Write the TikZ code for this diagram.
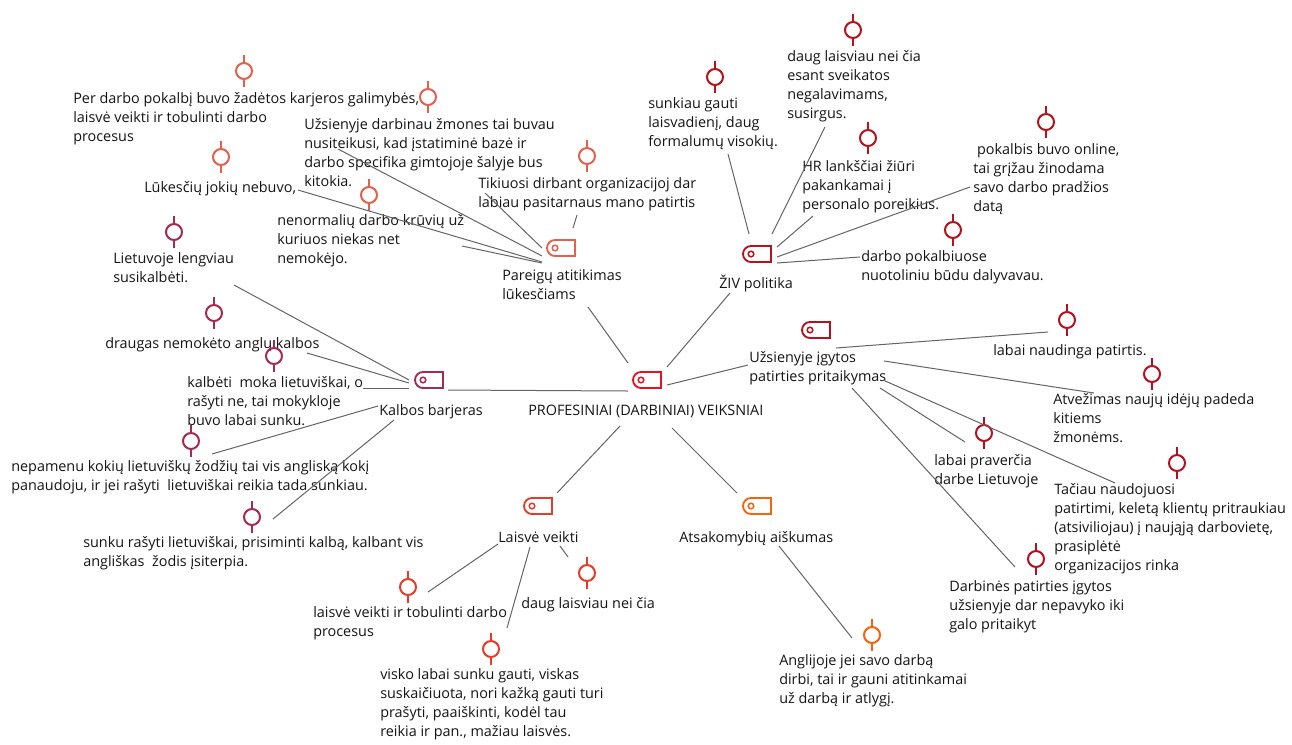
\documentclass[tikz,border=0pt]{standalone}
\usepackage{fontspec}
\setmainfont{Open Sans}
\definecolor{cCenter}{RGB}{232,17,35}
\definecolor{cPar}{RGB}{226,97,77}
\definecolor{cZiv}{RGB}{181,18,27}
\definecolor{cKal}{RGB}{165,42,79}
\definecolor{cUzs}{RGB}{181,16,31}
\definecolor{cLai}{RGB}{230,59,42}
\definecolor{cAts}{RGB}{247,99,12}
\definecolor{lineGray}{RGB}{100,100,100}
\definecolor{txtCol}{RGB}{20,20,20}
\tikzset{
  conn/.style={draw=lineGray, line width=0.75pt},
  txt/.style={anchor=north west, inner sep=0pt, align=left, text=txtCol, yshift=11.25pt,
    font=\fontsize{10.8pt}{14.2pt}\selectfont,
    execute at begin node={\rule{0pt}{11.25pt}}},
  tagnode/.style={inner sep=0pt, minimum width=22.5pt, minimum height=13.5pt},
  pics/tagicon/.style={code={
    \draw[line width=1.4pt] (-4.5pt,6pt) -- (10.5pt,6pt) -- (10.5pt,-6pt) -- (-4.5pt,-6pt)
      arc[start angle=270,end angle=90,radius=6pt] -- cycle;
    \draw[line width=1.1pt] (-4.5pt,0pt) circle[radius=2.1pt];
  }},
  pics/pinicon/.style={code={
    \draw[line width=1.5pt] (0pt,6pt) -- (0pt,12pt) (0pt,-6pt) -- (0pt,-12pt);
    \draw[line width=1.5pt] (0pt,0pt) circle[radius=6pt];
  }}
}
\begin{document}
\begin{tikzpicture}[x=0.75pt,y=-0.75pt]
\useasboundingbox (0,0) rectangle (1292,744);

% ---------- central ----------
\node[tagnode] (c0) at (647,380) {};
\pic[cCenter] at (c0) {tagicon};
\node[txt] (c0l) at (528,415) {PROFESINIAI (DARBINIAI) VEIKSNIAI};

% ---------- Pareigu ----------
\node[tagnode] (pa) at (561,248) {};
\pic[cPar] at (pa) {tagicon};
\node[txt] (pal) at (502,284) {Pareigų atitikimas\\lūkesčiams};
\node[txt] (pa1) at (73,107) {Per darbo pokalbį buvo žadėtos karjeros galimybės,\\laisvė veikti ir tobulinti darbo\\procesus};
\pic[cPar] at (244,71) {pinicon};
\node[txt] (pa2) at (304,133) {Užsienyje darbinau žmones tai buvau\\nusiteikusi, kad įstatiminė bazė ir\\darbo specifika gimtojoje šalyje bus\\kitokia.};
\pic[cPar] at (428,97) {pinicon};
\node[txt] (pa3) at (144,192) {Lūkesčių jokių nebuvo,};
\pic[cPar] at (221,157) {pinicon};
\node[txt] (pa4) at (277,229) {nenormalių darbo krūvių už\\kuriuos niekas net\\nemokėjo.};
\pic[cPar] at (369,195) {pinicon};
\node[txt] (pa5) at (478,192) {Tikiuosi dirbant organizacijoj dar\\labiau pasitarnaus mano patirtis};
\pic[cPar] at (587,156) {pinicon};

\draw[conn] ([shift={(265,57)}]pa1.north west) -- ([shift={(-19,8)}]pa.center);
\draw[conn] ([shift={(181,75)}]pa2.north west) -- ([shift={(-19,0)}]pa.center);
\draw[conn] ([shift={(154,13)}]pa3.north west) -- ([shift={(-19,14)}]pa.center);
\draw[conn] ([shift={(185,32)}]pa4.north west) -- ([shift={(-19,15)}]pa.center);
\draw[conn] ([shift={(99,38)}]pa5.north west) -- ([shift={(12,-20)}]pa.center);
\draw[conn] ([shift={(86,38)}]pal.north west) -- ([shift={(-19,-17)}]c0.center);

% ---------- ZIV ----------
\node[tagnode] (zi) at (757,254) {};
\pic[cZiv] at (zi) {tagicon};
\node[txt] (zil) at (719,288) {ŽIV politika};
\node[txt] (zi1) at (648,112) {sunkiau gauti\\laisvadienį, daug\\formalumų visokių.};
\pic[cZiv] at (715,77) {pinicon};
\node[txt] (zi2) at (787,65) {daug laisviau nei čia\\esant sveikatos\\negalavimams,\\susirgus.};
\pic[cZiv] at (853,30) {pinicon};
\node[txt] (zi3) at (802,175) {HR lankščiai žiūri\\pakankamai į\\personalo poreikius.};
\pic[cZiv] at (868,138) {pinicon};
\node[txt] (zi4) at (973,158) {\ pokalbis buvo online,\\tai grįžau žinodama\\savo darbo pradžios\\datą};
\pic[cZiv] at (1046,122) {pinicon};
\node[txt] (zi5) at (861,265) {darbo pokalbiuose\\nuotoliniu būdu dalyvavau.};
\pic[cZiv] at (953,230) {pinicon};

\draw[conn] ([shift={(80,57)}]zi1.north west) -- ([shift={(-8,-20)}]zi.center);
\draw[conn] ([shift={(38,77)}]zi2.north west) -- ([shift={(15,-20)}]zi.center);
\draw[conn] ([shift={(11,56)}]zi3.north west) -- ([shift={(20,-7)}]zi.center);
\draw[conn] ([shift={(-3,44)}]zi4.north west) -- ([shift={(20,3)}]zi.center);
\draw[conn] ([shift={(-1,7)}]zi5.north west) -- ([shift={(20,9)}]zi.center);
\draw[conn] ([shift={(11,20)}]zil.north west) -- ([shift={(20,-13)}]c0.center);

% ---------- Kalbos ----------
\node[tagnode] (ka) at (429,380) {};
\pic[cKal] at (ka) {tagicon};
\node[txt] (kal) at (379,415) {Kalbos barjeras};
\node[txt] (ka1) at (113,267) {Lietuvoje lengviau\\susikalbėti.};
\pic[cKal] at (174,232) {pinicon};
\node[txt] (ka2) at (105,348) {draugas nemokėto anglų kalbos};
\pic[cKal] at (214,313) {pinicon};
\node[txt] (ka3) at (187,391) {kalbėti\ \ moka lietuviškai, o\\rašyti ne, tai mokykloje\\buvo labai sunku.};
\pic[cKal] at (274,356) {pinicon};
\node[txt] (ka4) at (11,475) {nepamenu kokių lietuviškų žodžių tai vis angliską kokį\\panaudoju, ir jei rašyti\ \ lietuviškai reikia tada sunkiau.};
\pic[cKal] at (191,441) {pinicon};
\node[txt] (ka5) at (83,551) {sunku rašyti lietuviškai, prisiminti kalbą, kalbant vis\\angliškas\ \ žodis įsiterpia.};
\pic[cKal] at (252,517) {pinicon};

\draw[conn] ([shift={(121,33)}]ka1.north west) -- ([shift={(-20,0)}]ka.center);
\draw[conn] ([shift={(202,20)}]ka2.north west) -- ([shift={(-20,3)}]ka.center);
\draw[conn] ([shift={(176,12)}]ka3.north west) -- ([shift={(-20,8)}]ka.center);
\draw[conn] ([shift={(201,-6)}]ka4.north west) -- ([shift={(-1,6)}]kal.north west);
\draw[conn] ([shift={(190,-17)}]ka5.north west) -- ([shift={(15,20)}]kal.north west);
\draw[conn] ([shift={(19,10)}]ka.center) -- ([shift={(-19,11)}]c0.center);

% ---------- Uzsienyje ----------
\node[tagnode] (uz) at (816,330) {};
\pic[cUzs] at (uz) {tagicon};
\node[txt] (uzl) at (749,366) {Užsienyje įgytos\\patirties pritaikymas};
\node[txt] (uz1) at (993,355) {labai naudinga patirtis.};
\pic[cUzs] at (1067,320) {pinicon};
\node[txt] (uz2) at (1053,408) {Atvežimas naujų idėjų padeda\\kitiems\\žmonėms.};
\pic[cUzs] at (1152,374) {pinicon};
\node[txt] (uz3) at (934,469) {labai praverčia\\darbe Lietuvoje};
\pic[cUzs] at (984,433) {pinicon};
\node[txt] (uz4) at (1054,498) {Tačiau naudojuosi\\patirtimi, keletą klientų pritraukiau\\(atsiviliojau) į naująją darbovietę,\\prasiplėtė\\organizacijos rinka};
\pic[cUzs] at (1177,463) {pinicon};
\node[txt] (uz5) at (949,595) {Darbinės patirties įgytos\\užsienyje dar nepavyko iki\\galo pritaikyt};
\pic[cUzs] at (1036,559) {pinicon};

\draw[conn] ([shift={(55,-8)}]uz1.north west) -- ([shift={(87,-3)}]uzl.north west);
\draw[conn] ([shift={(41,0)}]uz2.north west) -- ([shift={(135,10)}]uzl.north west);
\draw[conn] ([shift={(31,-12)}]uz3.north west) -- ([shift={(131,37)}]uzl.north west);
\draw[conn] ([shift={(61,0)}]uz4.north west) -- ([shift={(134,29)}]uzl.north west);
\draw[conn] ([shift={(66,-13)}]uz5.north west) -- ([shift={(103,37)}]uzl.north west);
\draw[conn] ([shift={(20,5)}]c0.center) -- ([shift={(-1,14)}]uzl.north west);

% ---------- Laisve ----------
\node[tagnode] (la) at (538,506) {};
\pic[cLai] at (la) {tagicon};
\node[txt] (lal) at (498,542) {Laisvė veikti};
\node[txt] (la1) at (313,621) {laisvė veikti ir tobulinti darbo\\procesus};
\pic[cLai] at (408,587) {pinicon};
\node[txt] (la2) at (521,608) {daug laisviau nei čia};
\pic[cLai] at (587,573) {pinicon};
\node[txt] (la3) at (380,683) {visko labai sunku gauti, viskas\\suskaičiuota, nori kažką gauti turi\\prašyti, paaiškinti, kodėl tau\\reikia ir pan., mažiau laisvės.};
\pic[cLai] at (491,649) {pinicon};

\draw[conn] ([shift={(115,-14)}]la1.north west) -- ([shift={(0,17)}]lal.north west);
\draw[conn] ([shift={(47,-36)}]la2.north west) -- ([shift={(62,19)}]lal.north west);
\draw[conn] ([shift={(127,-40)}]la3.north west) -- ([shift={(32,20)}]lal.north west);
\draw[conn] ([shift={(19,-13)}]la.center) -- ([shift={(92,26)}]c0l.north west);

% ---------- Atsakomybiu ----------
\node[tagnode] (at) at (757,506) {};
\pic[cAts] at (at) {tagicon};
\node[txt] (atl) at (679,542) {Atsakomybių aiškumas};
\node[txt] (at1) at (779,669) {Anglijoje jei savo darbą\\dirbi, tai ir gauni atitinkamai\\už darbą ir atlygį.};
\pic[cAts] at (872,635) {pinicon};

\draw[conn] ([shift={(100,19)}]atl.north west) -- ([shift={(73,-16)}]at1.north west);
\draw[conn] ([shift={(144,28)}]c0l.north west) -- ([shift={(-20,-13)}]at.center);
\end{tikzpicture}
\end{document}
